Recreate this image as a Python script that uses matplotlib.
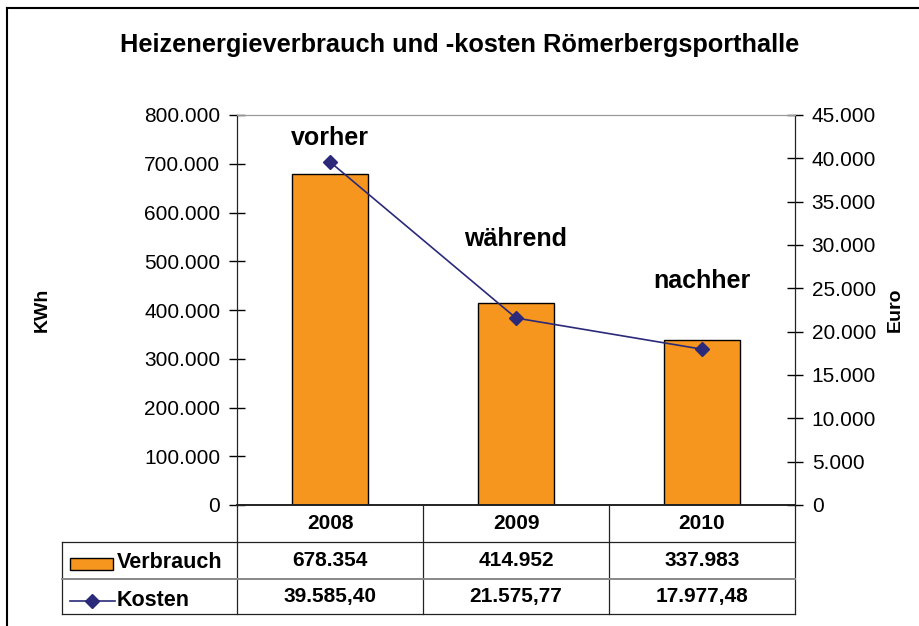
import numpy as np
import matplotlib
matplotlib.use("Agg")
import matplotlib.pyplot as plt
from matplotlib.lines import Line2D
from matplotlib.patches import Rectangle
import matplotlib.ticker as mticker

plt.rcParams['font.family'] = ['Liberation Sans', 'DejaVu Sans']

years = ['2008', '2009', '2010']
verbrauch = [678354, 414952, 337983]          # KWh
kosten = [39585.40, 21575.77, 17977.48]       # Euro
phasen = ['vorher', 'während', 'nachher']
phase_pos = [752000, 545000, 460000]         # left-axis height of the phase labels

bar_color = '#F7961E'
line_color = '#2B2A7A'


def de_int(v):
    return f'{v:,.0f}'.replace(',', '.')


def de_money(v):
    return f'{v:,.2f}'.replace(',', 'X').replace('.', ',').replace('X', '.')


W, H = 920, 626
fig = plt.figure(figsize=(9.2, 6.26), dpi=100)
ax = fig.add_axes([237 / W, 1 - 505 / H, (795 - 237) / W, (505 - 115) / H])
ax2 = ax.twinx()

x = np.arange(len(years))
ax.bar(x, verbrauch, width=0.41, color=bar_color, edgecolor='black', linewidth=1.0, zorder=2)
ax2.plot(x, kosten, color=line_color, lw=1.2, marker='D', markersize=7, zorder=3)

ax.set_xlim(-0.5, 2.5)
ax.set_ylim(0, 800000)
ax2.set_ylim(0, 45000)
ax.set_yticks(np.arange(0, 800001, 100000))
ax2.set_yticks(np.arange(0, 45001, 5000))
ax.yaxis.set_major_formatter(mticker.FuncFormatter(lambda v, p: de_int(v)))
ax2.yaxis.set_major_formatter(mticker.FuncFormatter(lambda v, p: de_int(v)))
ax.set_xticks([])
ax.tick_params(axis='y', direction='inout', length=12, width=1, labelsize=15, pad=6)
ax2.tick_params(axis='y', direction='inout', length=12, width=1, labelsize=15, pad=6)

for a in (ax, ax2):
    a.spines['top'].set_color('#999999')
    a.spines['left'].set_color('#222222')
    a.spines['right'].set_color('#222222')
    a.spines['bottom'].set_color('#222222')
    a.spines['bottom'].set_linewidth(1.2)

for i, t in enumerate(phasen):
    ax.text(x[i], phase_pos[i], t, ha='center', va='center', fontsize=18,
            fontweight='bold')

fig.text(460 / W, 1 - 45 / H, 'Heizenergieverbrauch und -kosten Römerbergsporthalle',
         ha='center', va='center', fontsize=18.3, fontweight='bold')
fig.text(42 / W, 1 - 310 / H, 'KWh', rotation=90, ha='center', va='center',
         fontsize=14, fontweight='bold')
fig.text(895 / W, 1 - 310 / H, 'Euro', rotation=90, ha='center', va='center',
         fontsize=14, fontweight='bold')

# data table below the plot (x in data units, y in axes fraction)
tr = ax.get_xaxis_transform()
ph = 505 - 115
def fy(py):
    return -(py - 505) / ph

left = -0.5 - (237 - 62) / 186.0
y_head, y_row1, y_row2 = fy(542), fy(579), fy(614)
dark = '#222222'
for xb in [-0.5, 0.5, 1.5, 2.5]:
    ax.add_line(Line2D([xb, xb], [0, y_row2], transform=tr, color=dark, lw=0.9, clip_on=False))
ax.add_line(Line2D([left, left], [y_head, y_row2], transform=tr, color=dark, lw=0.9, clip_on=False))
ax.add_line(Line2D([left, 2.5], [y_head, y_head], transform=tr, color=dark, lw=0.9, clip_on=False))
ax.add_line(Line2D([left, 2.5], [y_row1, y_row1], transform=tr, color='#888888', lw=1.4, clip_on=False))
ax.add_line(Line2D([left, 2.5], [y_row2, y_row2], transform=tr, color=dark, lw=0.9, clip_on=False))

yc_head = (0 + y_head) / 2
yc1 = (y_head + y_row1) / 2
yc2 = (y_row1 + y_row2) / 2
for i, yr in enumerate(years):
    ax.text(x[i], yc_head, yr, transform=tr, ha='center', va='center',
            fontsize=15, fontweight='bold')
    ax.text(x[i], yc1, de_int(verbrauch[i]), transform=tr, ha='center', va='center',
            fontsize=15, fontweight='bold')
    ax.text(x[i], yc2, de_money(kosten[i]), transform=tr, ha='center', va='center',
            fontsize=15, fontweight='bold')

# legend keys inside the table
fig.add_artist(Rectangle((70 / W, 1 - 570 / H), 43 / W, 12 / H, transform=fig.transFigure,
                         facecolor=bar_color, edgecolor='black', lw=1.0))
fig.add_artist(Line2D([70 / W, 115 / W], [1 - 601 / H, 1 - 601 / H], transform=fig.transFigure,
                      color=line_color, lw=1.2))
fig.add_artist(Line2D([92 / W], [1 - 601 / H], transform=fig.transFigure, color=line_color,
                      marker='D', markersize=7))
fig.text(117 / W, 1 - 562 / H, 'Verbrauch', ha='left', va='center', fontsize=15.5, fontweight='bold')
fig.text(117 / W, 1 - 600 / H, 'Kosten', ha='left', va='center', fontsize=15.5, fontweight='bold')

# outer chart frame (only left and top edges visible)
fig.add_artist(Line2D([7 / W, 7 / W], [0, 1 - 8 / H], transform=fig.transFigure, color='black', lw=1.5))
fig.add_artist(Line2D([7 / W, 1], [1 - 8 / H, 1 - 8 / H], transform=fig.transFigure, color='black', lw=1.5))

fig.savefig('out.png', dpi=100)
